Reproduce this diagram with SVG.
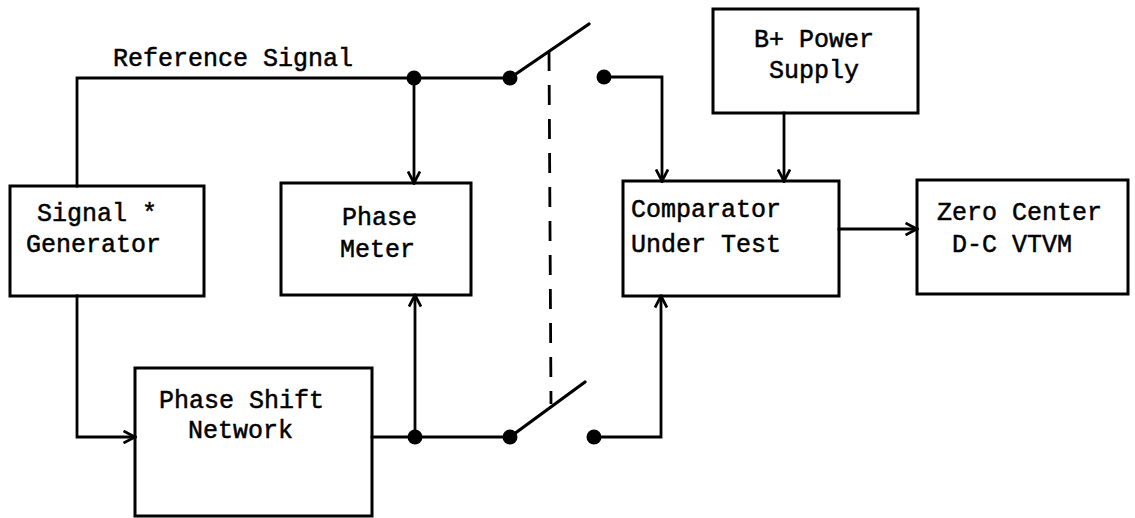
<svg xmlns="http://www.w3.org/2000/svg" width="1135" height="518" viewBox="0 0 1135 518">
  <style>
    .box { fill: none; stroke: #000; stroke-width: 3; }
    .wire { fill: none; stroke: #000; stroke-width: 2.8; stroke-linecap: square; }
    .blade { fill: none; stroke: #000; stroke-width: 3.2; stroke-linecap: round; }
    .link { fill: none; stroke: #000; stroke-width: 2.8; stroke-dasharray: 20 14; }
    .dot { fill: #000; }
    .lbl { font-family: "Liberation Mono", "DejaVu Sans Mono", monospace; font-size: 25px; fill: #000; stroke: #000; stroke-width: 0.5; }
  </style>
  <defs>
    <marker id="arrow" markerUnits="userSpaceOnUse" viewBox="0 0 14 14" markerWidth="14" markerHeight="14" refX="12.5" refY="7" orient="auto">
      <path d="M1,1 L12.5,7 L1,13" fill="none" stroke="#000" stroke-width="2.8" stroke-linejoin="miter"/>
    </marker>
  </defs>
  <rect width="1135" height="518" fill="#fff"/>

  <!-- wiring -->
  <g id="connectors">
    <!-- reference signal path -->
    <polyline class="wire" points="77,186 77,78 510,78"/>
    <line class="wire" x1="414" y1="78" x2="414" y2="183" marker-end="url(#arrow)"/>
    <!-- generator to phase shift network -->
    <polyline class="wire" points="77,296 77,437 135,437" marker-end="url(#arrow)"/>
    <!-- shifted signal path -->
    <line class="wire" x1="372" y1="437" x2="510" y2="437"/>
    <line class="wire" x1="415" y1="437" x2="415" y2="295" marker-end="url(#arrow)"/>
    <!-- ganged switch -->
    <line class="blade" x1="510" y1="78" x2="589" y2="24"/>
    <line class="blade" x1="510" y1="437" x2="585" y2="382"/>
    <line class="link" x1="549" y1="51" x2="551" y2="404"/>
    <!-- switch outputs to comparator -->
    <polyline class="wire" points="604,77 662,77 662,181" marker-end="url(#arrow)"/>
    <polyline class="wire" points="594,437 661,437 661,296" marker-end="url(#arrow)"/>
    <!-- supply and output -->
    <line class="wire" x1="784" y1="113" x2="784" y2="181" marker-end="url(#arrow)"/>
    <line class="wire" x1="839" y1="229" x2="917" y2="229" marker-end="url(#arrow)"/>
    <!-- junctions and contacts -->
    <circle class="dot" cx="414" cy="78" r="7.5"/>
    <circle class="dot" cx="510" cy="78" r="7.5"/>
    <circle class="dot" cx="604" cy="77" r="7.5"/>
    <circle class="dot" cx="415" cy="437" r="7.5"/>
    <circle class="dot" cx="510" cy="437" r="7.5"/>
    <circle class="dot" cx="594" cy="437" r="7.5"/>
    <text class="lbl" x="113" y="66">Reference Signal</text>
  </g>

  <g id="signal-generator">
    <rect class="box" x="10" y="186" width="194" height="110"/>
    <text class="lbl" x="37" y="221">Signal *</text>
    <text class="lbl" x="26" y="252">Generator</text>
  </g>

  <g id="phase-meter">
    <rect class="box" x="281" y="183" width="190" height="112"/>
    <text class="lbl" x="342" y="225">Phase</text>
    <text class="lbl" x="340" y="257">Meter</text>
  </g>

  <g id="phase-shift-network">
    <rect class="box" x="135" y="368" width="237" height="148"/>
    <text class="lbl" x="159" y="408">Phase Shift</text>
    <text class="lbl" x="188" y="438">Network</text>
  </g>

  <g id="power-supply">
    <rect class="box" x="713" y="9" width="205" height="104"/>
    <text class="lbl" x="754" y="47">B+ Power</text>
    <text class="lbl" x="769" y="78">Supply</text>
  </g>

  <g id="comparator">
    <rect class="box" x="623" y="181" width="216" height="115"/>
    <text class="lbl" x="631" y="217">Comparator</text>
    <text class="lbl" x="631" y="252">Under Test</text>
  </g>

  <g id="vtvm">
    <rect class="box" x="917" y="180" width="211" height="114"/>
    <text class="lbl" x="937" y="220">Zero Center</text>
    <text class="lbl" x="952" y="252">D-C VTVM</text>
  </g>
</svg>
